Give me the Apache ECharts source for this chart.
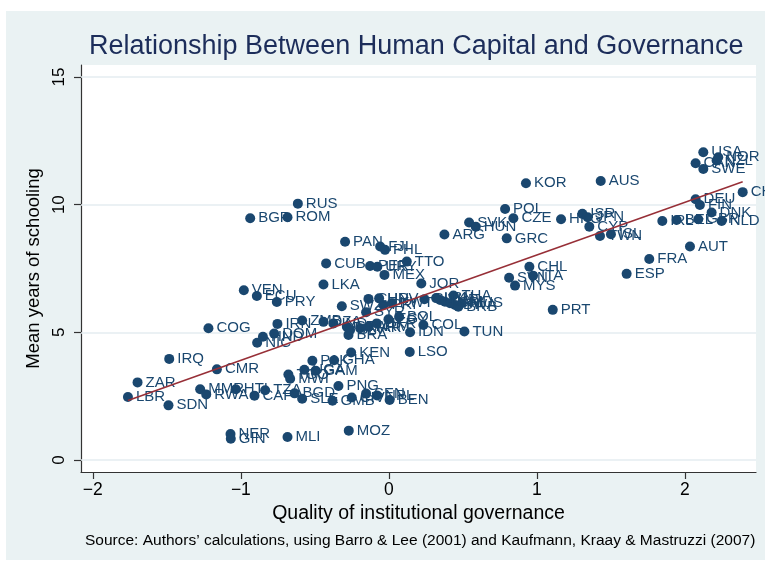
<!DOCTYPE html>
<html>
<head>
<meta charset="utf-8">
<script src="https://cdn.jsdelivr.net/npm/echarts@6/dist/echarts.min.js"></script>
<style>
html, body { margin: 0; padding: 0; background: #fff; }
#main { width: 765px; height: 565px; }
</style>
</head>
<body>
<div id="main"></div>
<script>
// Country codes, governance score (x) and mean years of schooling (y)
var countries = [
    'RUS', 'BGR', 'ROM', 'CUB', 'LKA', 'VEN', 'ECU', 'PRY', 'IRN', 'ZMB',
    'COG', 'IRQ', 'CMR', 'ZAR', 'LBR', 'SDN', 'MMR', 'RWA', 'HTI', 'CAF',
    'TZA', 'NER', 'GIN', 'MLI', 'NIC', 'HND', 'DOM', 'KEN', 'LSO', 'PAK',
    'GHA', 'TGO', 'MWI', 'UGA', 'GAM', 'PNG', 'BGD', 'SLE', 'GMB', 'CIV',
    'SEN', 'NPL', 'BEN', 'MOZ', 'PAN', 'FJI', 'PHL', 'ARG', 'GRC', 'PER',
    'URY', 'TTO', 'MEX', 'JOR', 'SWZ', 'CHN', 'HRV', 'PRI', 'KWT', 'SYR',
    'EGY', 'BOL', 'GUY', 'COL', 'IDN', 'TUN', 'BRA', 'DZA', 'IND', 'GTM',
    'SLV', 'MAR', 'ARM', 'UKR', 'TUR', 'JAM', 'THA', 'BWA', 'CRI', 'MUS',
    'LBN', 'BRB', 'USA', 'NOR', 'NZL', 'CAN', 'SWE', 'KOR', 'AUS', 'CHE',
    'DEU', 'FIN', 'DNK', 'NLD', 'BEL', 'IRL', 'GBR', 'POL', 'CZE', 'SVK',
    'HUN', 'HKG', 'ISR', 'JPN', 'CYP', 'TWN', 'ISL', 'AUT', 'FRA', 'ESP',
    'CHL', 'SVN', 'ITA', 'MYS', 'PRT'
];
var governance = [
    -0.615, -0.937, -0.685, -0.424, -0.442, -0.980, -0.892, -0.757, -0.753, -0.586,
    -1.219, -1.484, -1.162, -1.698, -1.763, -1.489, -1.275, -1.234, -1.034, -0.908,
    -0.836, -1.070, -1.068, -0.685, -0.890, -0.851, -0.775, -0.255, 0.141, -0.517,
    -0.370, -0.679, -0.667, -0.571, -0.495, -0.341, -0.637, -0.586, -0.381, -0.251,
    -0.154, -0.080, 0.005, -0.271, -0.296, -0.059, -0.026, 0.375, 0.796, -0.127,
    -0.078, 0.121, -0.030, 0.219, -0.318, -0.138, -0.066, -0.037, 0.020, -0.154,
    -0.003, 0.069, 0.240, 0.233, 0.143, 0.510, -0.273, -0.442, -0.375, -0.284,
    -0.262, -0.194, -0.138, -0.082, 0.346, 0.379, 0.436, 0.447, 0.413, 0.492,
    0.319, 0.469, 2.124, 2.225, 2.214, 2.072, 2.124, 0.926, 1.431, 2.390,
    2.072, 2.101, 2.180, 2.248, 1.944, 1.847, 2.090, 0.785, 0.841, 0.542,
    0.587, 1.163, 1.307, 1.343, 1.354, 1.426, 1.500, 2.034, 1.759, 1.606,
    0.949, 0.812, 0.974, 0.852, 1.107
];
var schooling = [
    10.04, 9.47, 9.51, 7.70, 6.87, 6.65, 6.42, 6.19, 5.33, 5.46,
    5.16, 3.96, 3.55, 3.04, 2.47, 2.14, 2.77, 2.57, 2.77, 2.52,
    2.73, 1.02, 0.83, 0.90, 4.59, 4.83, 4.95, 4.21, 4.23, 3.89,
    3.91, 3.35, 3.18, 3.53, 3.50, 2.90, 2.61, 2.40, 2.32, 2.45,
    2.60, 2.53, 2.35, 1.15, 8.55, 8.36, 8.23, 8.83, 8.68, 7.60,
    7.57, 7.77, 7.25, 6.91, 6.02, 6.31, 6.33, 6.07, 6.14, 5.79,
    5.51, 5.61, 6.30, 5.29, 5.00, 5.03, 4.90, 5.41, 5.35, 5.22,
    5.09, 5.16, 5.22, 5.35, 6.27, 6.20, 6.44, 6.07, 6.14, 6.14,
    6.34, 6.00, 12.05, 11.86, 11.73, 11.62, 11.40, 10.84, 10.93, 10.49,
    10.21, 9.99, 9.69, 9.36, 9.40, 9.36, 9.43, 9.83, 9.47, 9.30,
    9.14, 9.43, 9.64, 9.51, 9.14, 8.77, 8.84, 8.36, 7.87, 7.29,
    7.57, 7.14, 7.22, 6.83, 5.88
];

// Linear fit end points
var fitX = [-1.763, 2.390];
var fitY = [2.33, 10.90];

// Axis ticks
var xTicks = [-2, -1, 0, 1, 2];
var yTicks = [0, 5, 10, 15];

var chart = echarts.init(document.getElementById('main'));
var font = 'Arial, "Liberation Sans", Helvetica, sans-serif';

function minus(v) {
    return String(v).replace('-', '\u2212');
}

var points = countries.map(function (c, i) {
    return [governance[i], schooling[i], c];
});
var fitLine = fitX.map(function (x, i) {
    return [x, fitY[i]];
});

var option = {
    backgroundColor: '#fff',
    animation: false,
    graphic: [{
        type: 'rect',
        silent: true,
        z: -10,
        shape: { x: 6, y: 11, width: 759, height: 549 },
        style: { fill: '#eaf2f3' }
    }],
    title: [{
        text: 'Relationship Between Human Capital and Governance',
        left: 84,
        top: 28,
        textStyle: { fontFamily: font, fontSize: 27, fontWeight: 'normal', color: '#1c2d5a' }
    }, {
        text: 'Source: Authors\u2019 calculations, using Barro & Lee (2001) and Kaufmann, Kraay & Mastruzzi (2007)',
        left: 80,
        top: 528,
        textStyle: { fontFamily: font, fontSize: 15.5, fontWeight: 'normal', color: '#000' }
    }],
    grid: {
        left: 81, right: 9, top: 65, bottom: 93,
        show: true, backgroundColor: '#fff', borderWidth: 0
    },
    xAxis: {
        type: 'value',
        min: -2.08,
        max: 2.48,
        name: 'Quality of institutional governance',
        nameLocation: 'middle',
        nameGap: 30,
        nameTextStyle: { fontFamily: font, fontSize: 19.5, color: '#000' },
        axisLine: { show: true, onZero: false, lineStyle: { color: '#333', width: 1.2 } },
        axisTick: { show: true, length: 7, customValues: xTicks, lineStyle: { color: '#333', width: 1.2 } },
        axisLabel: { customValues: xTicks, margin: 9, fontFamily: font, fontSize: 17.5, color: '#000', formatter: minus },
        splitLine: { show: false }
    },
    yAxis: {
        type: 'value',
        min: -0.47,
        max: 15.47,
        name: 'Mean years of schooling',
        nameLocation: 'middle',
        nameGap: 34,
        nameTextStyle: { fontFamily: font, fontSize: 18.5, color: '#000' },
        axisLine: { show: true, onZero: false, lineStyle: { color: '#333', width: 1.2 } },
        axisTick: { show: true, length: 7, customValues: yTicks, lineStyle: { color: '#333', width: 1.2 } },
        axisLabel: { customValues: yTicks, rotate: 90, margin: 13, fontFamily: font, fontSize: 17, color: '#000', formatter: minus },
        splitLine: { show: false }
    },
    series: [{
        // horizontal grid lines
        type: 'line',
        data: [],
        silent: true,
        markLine: {
            silent: true,
            symbol: 'none',
            z: 1,
            label: { show: false },
            lineStyle: { color: '#e4edf0', width: 1.5, type: 'solid' },
            data: yTicks.map(function (v) { return { yAxis: v }; })
        }
    }, {
        type: 'scatter',
        data: points,
        symbolSize: 10,
        z: 3,
        itemStyle: { color: '#1a476f', opacity: 1 },
        label: {
            show: true,
            position: 'right',
            distance: 3,
            fontFamily: font,
            fontSize: 15,
            color: '#1a476f',
            formatter: function (p) { return p.data[2]; }
        }
    }, {
        type: 'line',
        data: fitLine,
        z: 4,
        symbol: 'none',
        silent: true,
        lineStyle: { color: '#972f37', width: 1.5 }
    }]
};

chart.setOption(option);
</script>
</body>
</html>
